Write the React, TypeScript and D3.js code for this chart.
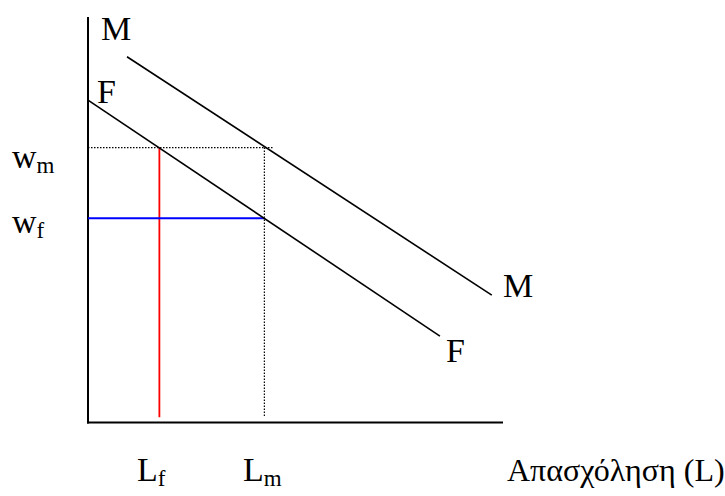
import React from "react";
import * as d3 from "d3";

// Curves (data units: employment 0..100, wage 0..100)
const curveM: [number, number][] = [[9.4, 90.2], [97.3, 31.4]];
const curveF: [number, number][] = [[0, 79.5], [84.8, 21.3]];
const wages = { wm: 67.8, wf: 50.4 };
const employment = { Lf: 17.2, Lm: 42.5 };
const dottedEndX = 44.5;
const verticalBottom = [1.3, 1.6];

const W = 725, H = 496;
const FONT = "'Liberation Serif', 'Times New Roman', Times, serif";

export default function App() {
  const x = d3.scaleLinear().domain([0, 100]).range([88, 503]);
  const y = d3.scaleLinear().domain([0, 100]).range([422.5, 17]);
  const line = d3.line<[number, number]>().x(d => x(d[0])).y(d => y(d[1]));

  return (
    <svg width={W} height={H} style={{ position: "absolute", left: 0, top: 0, background: "#fff" }} fontFamily={FONT}>
      {/* axes */}
      <line x1={x(0)} y1={y(100)} x2={x(0)} y2={y(0) + 1} stroke="#000" strokeWidth={2} />
      <line x1={x(0) - 1} y1={y(0)} x2={x(100)} y2={y(0)} stroke="#000" strokeWidth={2} />

      {/* dotted guides */}
      <line x1={x(0)} y1={y(wages.wm)} x2={x(dottedEndX)} y2={y(wages.wm)} stroke="#000" strokeWidth={1.2} strokeDasharray="1.5 1.5" />
      <line x1={x(employment.Lm)} y1={y(wages.wm)} x2={x(employment.Lm)} y2={y(verticalBottom[1])} stroke="#000" strokeWidth={1.2} strokeDasharray="1.5 1.5" />

      {/* red and blue */}
      <line x1={x(employment.Lf)} y1={y(wages.wm)} x2={x(employment.Lf)} y2={y(verticalBottom[0])} stroke="#ff0000" strokeWidth={1.8} />
      <line x1={x(0)} y1={y(wages.wf)} x2={x(employment.Lm)} y2={y(wages.wf)} stroke="#0000ff" strokeWidth={2} />

      {/* demand curves */}
      <path d={line(curveM) || ""} stroke="#000" strokeWidth={1.6} fill="none" />
      <path d={line(curveF) || ""} stroke="#000" strokeWidth={1.6} fill="none" />

      {/* labels */}
      <g fontSize={34} fill="#000">
        <text x={101} y={40}>M</text>
        <text x={97} y={103}>F</text>
        <text x={503} y={297}>M</text>
        <text x={446} y={362}>F</text>
        <text x={12} y={168}>w<tspan fontSize={23} dy={5}>m</tspan></text>
        <text x={12} y={233}>w<tspan fontSize={23} dy={5}>f</tspan></text>
        <text x={137} y={481}>L<tspan fontSize={23} dy={5}>f</tspan></text>
        <text x={243} y={481}>L<tspan fontSize={23} dy={5}>m</tspan></text>
        <text x={507} y={481} fontSize={32}>Απασχόληση (L)</text>
      </g>
    </svg>
  );
}
